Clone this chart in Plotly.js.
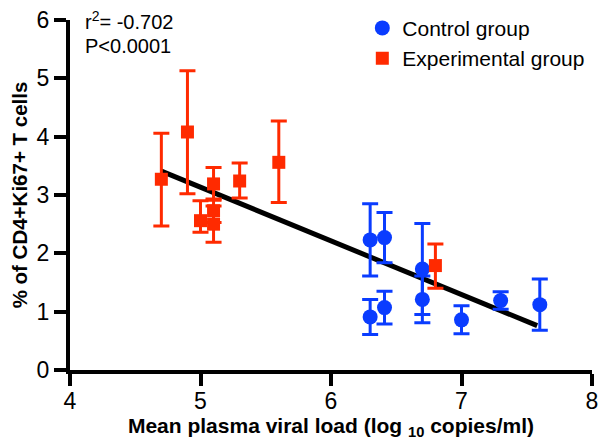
<!DOCTYPE html>
<html>
<head>
<meta charset="utf-8">
<script src="https://cdn.plot.ly/plotly-3.0.1.min.js"></script>
<style>
  html, body { margin: 0; padding: 0; background: #fff; }
  #plotArea { width: 600px; height: 448px; }
</style>
</head>
<body>
<div id="plotArea"></div>
<script>
// control group (blue circles)
var ctrlX = [6.30, 6.41, 6.30, 6.41, 6.70, 6.70, 7.00, 7.30, 7.60];
var ctrlY = [2.23, 2.27, 0.91, 1.07, 1.73, 1.21, 0.86, 1.19, 1.12];
var ctrlErr = [0.62, 0.43, 0.30, 0.28, 0.78, 0.40, 0.24, 0.15, 0.44];

// experimental group (red squares)
var expX = [4.70, 4.90, 5.10, 5.00, 5.10, 5.10, 5.30, 5.60, 6.80];
var expY = [3.27, 4.08, 3.19, 2.56, 2.73, 2.50, 3.24, 3.56, 1.79];
var expErrUp = [0.79, 1.05, 0.28, 0.34, 0.20, 0.31, 0.31, 0.71, 0.37];
var expErrDown = [0.80, 1.06, 0.28, 0.20, 0.20, 0.31, 0.29, 0.69, 0.39];

// regression line end points
var fitX = [4.70, 7.58];
var fitY = [3.41, 0.76];

var xTicks = [4, 5, 6, 7, 8];
var yTicks = [0, 1, 2, 3, 4, 5, 6];

var red = "#ff2a00";
var blue = "#0a3cff";

var fitLine = {
    x: fitX,
    y: fitY,
    mode: "lines",
    line: {color: "black", width: 5},
    showlegend: false,
    hoverinfo: "skip"
};

var control = {
    x: ctrlX,
    y: ctrlY,
    name: "Control group",
    mode: "markers",
    marker: {symbol: "circle", size: 15, color: blue},
    error_y: {type: "data", array: ctrlErr, visible: true, color: blue, thickness: 3, width: 8}
};

var experimental = {
    x: expX,
    y: expY,
    name: "Experimental group",
    mode: "markers",
    marker: {symbol: "square", size: 13, color: red},
    error_y: {type: "data", symmetric: false, array: expErrUp, arrayminus: expErrDown,
              visible: true, color: red, thickness: 3, width: 8}
};

var font = "Arial, 'Liberation Sans', Helvetica, sans-serif";

var layout = {
    width: 600,
    height: 448,
    margin: {l: 70, r: 8, t: 14, b: 78},
    paper_bgcolor: "white",
    plot_bgcolor: "white",
    font: {family: font, color: "black", size: 20},
    xaxis: {
        range: [4, 8],
        tickvals: xTicks,
        ticks: "outside",
        ticklen: 12,
        tickwidth: 4,
        tickcolor: "black",
        ticklabelstandoff: -5,
        showline: true,
        linewidth: 4,
        linecolor: "black",
        showgrid: false,
        zeroline: false,
        tickfont: {size: 23},
        title: {text: "<b>Mean plasma viral load (log <sub>10</sub> copies/ml)</b>", font: {size: 21}, standoff: 6}
    },
    yaxis: {
        range: [0, 6],
        tickvals: yTicks,
        ticks: "outside",
        ticklen: 12,
        tickwidth: 4,
        tickcolor: "black",
        showline: true,
        linewidth: 4,
        linecolor: "black",
        showgrid: false,
        zeroline: false,
        tickfont: {size: 23},
        title: {text: "<b>% of CD4+Ki67+ T cells</b>", font: {size: 20.5}, standoff: 4}
    },
    legend: {
        x: 0.56,
        xanchor: "left",
        y: 1.035,
        yanchor: "top",
        font: {size: 21},
        bgcolor: "rgba(0,0,0,0)",
        itemwidth: 30,
        tracegroupgap: 0
    },
    annotations: [{
        xref: "paper",
        yref: "paper",
        x: 0.025,
        y: (370 - 14) / 356,
        xanchor: "left",
        yanchor: "middle",
        showarrow: false,
        font: {size: 20},
        text: "r<sup>2</sup>= -0.702"
    }, {
        xref: "paper",
        yref: "paper",
        x: 0.025,
        y: (370 - 40) / 356,
        xanchor: "left",
        yanchor: "middle",
        showarrow: false,
        font: {size: 20},
        text: "P&lt;0.0001"
    }],
    showlegend: true
};

Plotly.newPlot("plotArea", [fitLine, control, experimental], layout, {displayModeBar: false, staticPlot: true});
</script>
</body>
</html>
